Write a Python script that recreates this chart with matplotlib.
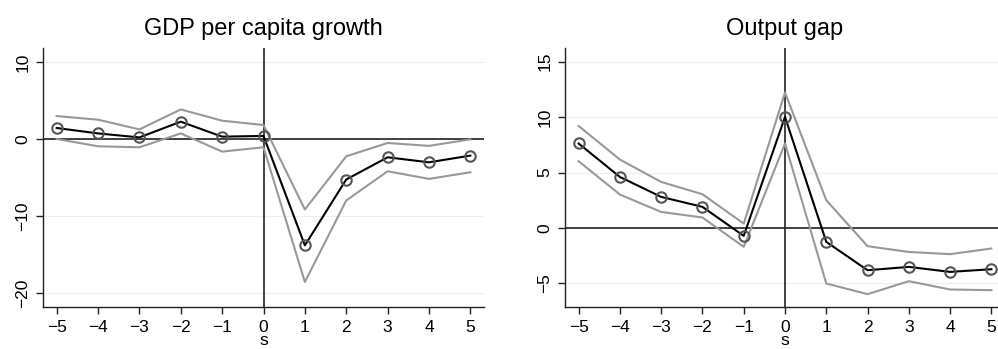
import numpy as np
import matplotlib
matplotlib.use('Agg')
import matplotlib.pyplot as plt

plt.rcParams['font.family'] = ['Liberation Sans', 'DejaVu Sans']

s = [-5, -4, -3, -2, -1, 0, 1, 2, 3, 4, 5]

# GDP per capita growth
gdp_est = [1.42, 0.72, 0.2, 2.24, 0.3, 0.39, -13.8, -5.26, -2.38, -3.03, -2.16]
gdp_hi = [2.97, 2.5, 1.24, 3.83, 2.37, 1.81, -9.15, -2.25, -0.52, -0.9, -0.05]
gdp_lo = [0.0, -0.95, -1.08, 0.72, -1.64, -1.08, -18.55, -7.98, -4.19, -5.18, -4.32]

# Output gap
gap_est = [7.62, 4.6, 2.8, 1.9, -0.72, 10.02, -1.26, -3.82, -3.52, -3.97, -3.73]
gap_hi = [9.2, 6.17, 4.15, 3.04, 0.39, 12.22, 2.5, -1.65, -2.17, -2.37, -1.86]
gap_lo = [6.02, 3.01, 1.44, 0.94, -1.71, 7.62, -5.02, -5.98, -4.81, -5.56, -5.62]

W, H = 998, 349
fig = plt.figure(figsize=(W / 100, H / 100), dpi=100)

panels = [
    ("GDP per capita growth", gdp_est, gdp_hi, gdp_lo, [-20, -10, 0, 10], (-21.8, 11.8),
     (43, 48, 484, 307)),
    ("Output gap", gap_est, gap_hi, gap_lo, [-5, 0, 5, 10, 15], (-7.14, 16.24),
     (565, 48, 1005, 307)),
]

for title, est, hi, lo, yt, ylim, (x0, y0, x1, y1) in panels:
    ax = fig.add_axes([x0 / W, 1 - y1 / H, (x1 - x0) / W, (y1 - y0) / H])
    for v in yt:
        ax.axhline(v, color='#eeeeee', lw=0.8, zorder=0)
    ax.axhline(0, color='#222222', lw=1.2, zorder=1)
    ax.axvline(0, color='#222222', lw=1.2, zorder=1)
    ax.plot(s, hi, color='#999999', lw=1.5, zorder=2)
    ax.plot(s, lo, color='#999999', lw=1.5, zorder=2)
    ax.plot(s, est, color='black', lw=1.5, zorder=3,
            marker='o', ms=7.5, mfc='none', mec='#555555', mew=1.5)
    ax.set_xlim(-5.33, 5.33)
    ax.set_ylim(*ylim)
    ax.set_xticks(s)
    ax.set_xticklabels([str(v).replace('-', '\u2212') for v in s])
    ax.set_yticks(yt)
    ax.set_yticklabels([str(v).replace('-', '\u2212') for v in yt], rotation=90, va='center')
    ax.tick_params(labelsize=12.5, length=5, width=1, color='#222222', pad=4)
    for side in ['top', 'right']:
        ax.spines[side].set_visible(False)
    for side in ['left', 'bottom']:
        ax.spines[side].set_color('#222222')
        ax.spines[side].set_linewidth(1)
    ax.set_title(title, fontsize=17, pad=9)
    ax.set_xlabel('s', fontsize=12.5, labelpad=-1)

fig.savefig('out.png', dpi=100)
